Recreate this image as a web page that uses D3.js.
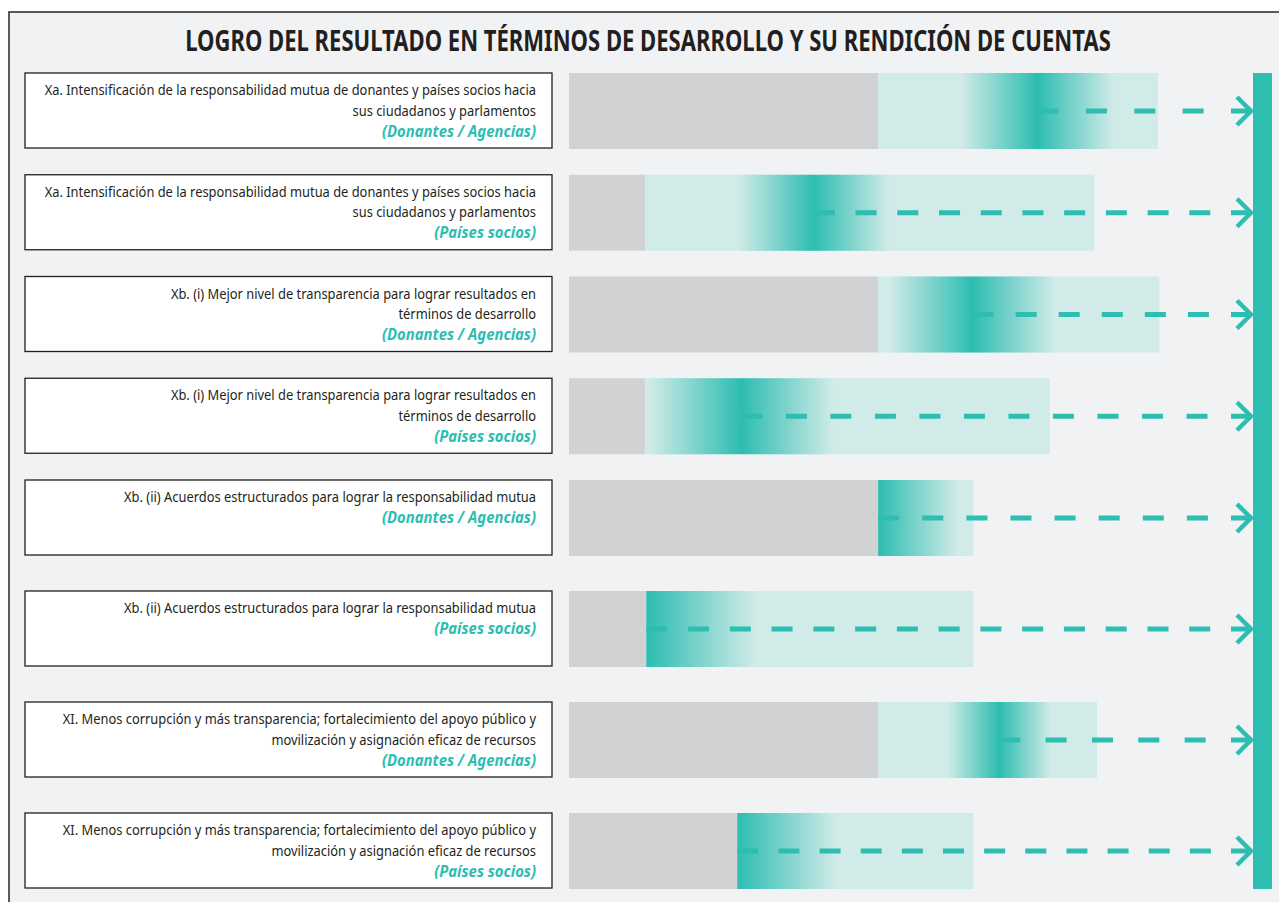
<!DOCTYPE html>
<html>
<head>
<meta charset="utf-8">
<script src="https://cdn.jsdelivr.net/npm/d3@7"></script>
<style>
body { margin: 0; background: #fff; }
svg { display: block; }
</style>
</head>
<body>
<svg id="chart"></svg>
<script>
var width = 1279, height = 902;

// data
var title = "LOGRO DEL RESULTADO EN TÉRMINOS DE DESARROLLO Y SU RENDICIÓN DE CUENTAS";
var indicators = [
	["Xa. Intensificación de la responsabilidad mutua de donantes y países socios hacia", "sus ciudadanos y parlamentos"],
	["Xa. Intensificación de la responsabilidad mutua de donantes y países socios hacia", "sus ciudadanos y parlamentos"],
	["Xb. (i) Mejor nivel de transparencia para lograr resultados en", "términos de desarrollo"],
	["Xb. (i) Mejor nivel de transparencia para lograr resultados en", "términos de desarrollo"],
	["Xb. (ii) Acuerdos estructurados para lograr la responsabilidad mutua"],
	["Xb. (ii) Acuerdos estructurados para lograr la responsabilidad mutua"],
	["XI. Menos corrupción y más transparencia; fortalecimiento del apoyo público y", "movilización y asignación eficaz de recursos"],
	["XI. Menos corrupción y más transparencia; fortalecimiento del apoyo público y", "movilización y asignación eficaz de recursos"]
];
var groups = ["(Donantes / Agencias)", "(Países socios)", "(Donantes / Agencias)", "(Países socios)",
	"(Donantes / Agencias)", "(Países socios)", "(Donantes / Agencias)", "(Países socios)"];
var baseline = [45.2, 11.1, 45.2, 11.1, 45.2, 11.3, 45.2, 24.6];
var current  = [68.5, 35.8, 59.0, 25.2, 45.2, 11.3, 62.9, 24.6];
var target   = [86.1, 76.8, 86.3, 70.3, 59.1, 59.1, 77.2, 59.1];
var spread   = [11.2, 11.0, 12.1, 13.5, 11.7, 16.0, 7.6, 14.6];
var goal = 100;

var teal = "#2dbdb1", light = "#d1ebe8", grey = "#d1d2d4", ink = "#231f20";
var font = "'Noto Sans', 'DejaVu Sans', sans-serif";

var svg = d3.select("#chart")
	.attr("width", width)
	.attr("height", height);

var x = d3.scaleLinear().domain([0, goal]).range([569, 1253]);
// rows are spaced a bit wider in the lower half
var y = d3.scaleLinear().domain([0, 4, 7]).range([73, 480, 813]);
var barH = 76;
var rows = d3.range(indicators.length);

// no condensed face is installed, so texts are squeezed with a scale
function textWidth(str, size, weight, style) {
	var p = svg.append("text")
		.attr("font-family", font).attr("font-size", size)
		.attr("font-weight", weight || "normal")
		.attr("font-style", style || "normal")
		.text(str);
	var w = p.node().getComputedTextLength();
	p.remove();
	return w;
}

// frame
svg.append("rect")
	.attr("x", 9).attr("y", 12)
	.attr("width", width + 20).attr("height", height + 20)
	.attr("fill", "#f1f2f4")
	.attr("stroke", "#333")
	.attr("stroke-width", 1.6);

var kt = 926 / textWidth(title, 29, "bold");
svg.append("g")
	.attr("transform", "translate(648,51) scale(" + kt + ",1)")
	.append("text")
	.attr("text-anchor", "middle")
	.attr("font-family", font)
	.attr("font-weight", "bold")
	.attr("font-size", 29)
	.attr("fill", ink)
	.text(title);

var defs = svg.append("defs");
rows.forEach(function(i) {
	var g = defs.append("linearGradient")
		.attr("id", "band" + i)
		.attr("gradientUnits", "userSpaceOnUse")
		.attr("x1", x(current[i] - spread[i])).attr("x2", x(current[i] + spread[i]))
		.attr("y1", 0).attr("y2", 0);
	g.append("stop").attr("offset", 0).attr("stop-color", light);
	g.append("stop").attr("offset", 0.5).attr("stop-color", teal);
	g.append("stop").attr("offset", 1).attr("stop-color", light);
});

// label boxes
var box = svg.selectAll("g.label")
	.data(rows)
	.enter().append("g")
	.attr("class", "label")
	.attr("transform", function(i) { return "translate(0," + y(i) + ")"; });

box.append("rect")
	.attr("x", 25).attr("y", 0)
	.attr("width", 527).attr("height", barH - 1)
	.attr("fill", "#fff")
	.attr("stroke", ink)
	.attr("stroke-width", 1.3);

// squeeze so the widest lines span what they do in the picture
var k = 492 / textWidth(indicators[0][0], 15);
var kg = 154 / textWidth(groups[0], 16, "bold", "italic");

box.each(function(i) {
	var g = d3.select(this);
	var lines = indicators[i];
	lines.forEach(function(l, j) {
		g.append("g")
			.attr("transform", "translate(536," + (22 + j * 20.6) + ") scale(" + k + ",1)")
			.append("text")
			.attr("text-anchor", "end")
			.attr("font-family", font)
			.attr("font-size", 15)
			.attr("fill", ink)
			.text(l);
	});
	g.append("g")
		.attr("transform", "translate(536," + (22.5 + lines.length * 20.6) + ") scale(" + kg + ",1)")
		.append("text")
		.attr("text-anchor", "end")
		.attr("font-family", font)
		.attr("font-size", 16)
		.attr("font-weight", "bold")
		.attr("font-style", "italic")
		.attr("fill", teal)
		.text(groups[i]);
});

// bars
svg.selectAll("rect.grey")
	.data(rows)
	.enter().append("rect")
	.attr("class", "grey")
	.attr("x", x(0))
	.attr("y", function(i) { return y(i); })
	.attr("width", function(i) { return x(baseline[i]) - x(0); })
	.attr("height", barH)
	.attr("fill", grey);

svg.selectAll("rect.range")
	.data(rows)
	.enter().append("rect")
	.attr("class", "range")
	.attr("x", function(i) { return x(baseline[i]); })
	.attr("y", function(i) { return y(i); })
	.attr("width", function(i) { return x(target[i]) - x(baseline[i]); })
	.attr("height", barH)
	.attr("fill", light);

svg.selectAll("rect.band")
	.data(rows)
	.enter().append("rect")
	.attr("class", "band")
	.attr("x", function(i) { return x(Math.max(baseline[i], current[i] - spread[i])); })
	.attr("y", function(i) { return y(i); })
	.attr("width", function(i) {
		return x(current[i] + spread[i]) - x(Math.max(baseline[i], current[i] - spread[i]));
	})
	.attr("height", barH)
	.attr("fill", function(i) { return "url(#band" + i + ")"; });

// goal line
svg.append("rect")
	.attr("x", x(goal)).attr("y", y(0))
	.attr("width", 19)
	.attr("height", y(rows.length - 1) + barH - y(0))
	.attr("fill", teal);

// dashed arrows, dashes fitted to both ends
var tip = x(goal);
rows.forEach(function(i) {
	var yc = y(i) + barH / 2;
	var x0 = x(current[i]);
	var len = tip - 1 - x0;
	var dash = 21;
	var n = Math.floor((len + 20) / (dash + 20));
	var gap = (len - n * dash) / (n - 1);
	svg.append("line")
		.attr("x1", x0).attr("x2", tip - 1)
		.attr("y1", yc).attr("y2", yc)
		.attr("stroke", teal)
		.attr("stroke-width", 5)
		.attr("stroke-dasharray", dash + "," + gap);
	svg.append("path")
		.attr("d", "M" + (tip - 16) + "," + (yc - 14) + "L" + (tip - 2) + "," + yc + "L" + (tip - 16) + "," + (yc + 14))
		.attr("fill", "none")
		.attr("stroke", teal)
		.attr("stroke-width", 4.5);
});
</script>
</body>
</html>
